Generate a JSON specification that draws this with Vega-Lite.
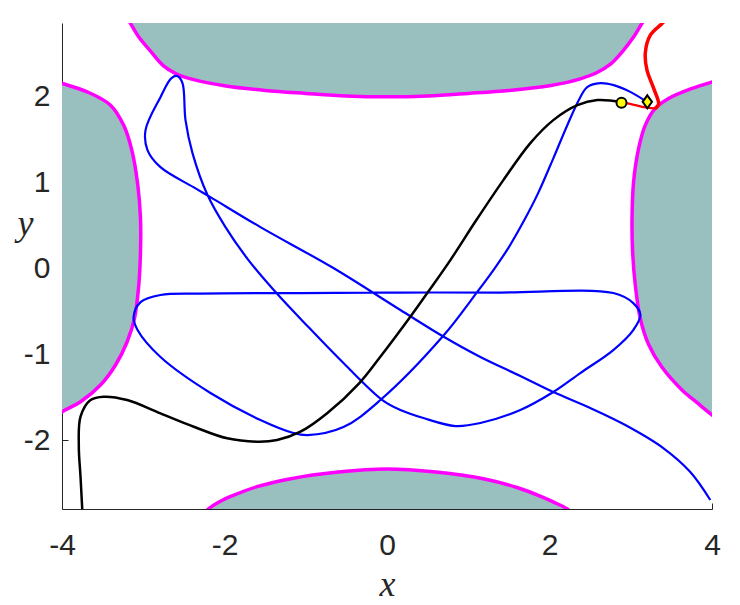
{
  "$schema": "https://vega.github.io/schema/vega-lite/v6.json",
  "width": 650,
  "height": 486,
  "autosize": {"type": "none"},
  "padding": {"left": 62, "top": 23, "right": 28, "bottom": 96},
  "background": "white",
  "config": {"view": {"stroke": null}},
  "datasets": {
    "regions": [
      {"s": "top", "i": 0, "x": -3.22, "y": 2.95},
      {"s": "top", "i": 1, "x": -3.16, "y": 2.86},
      {"s": "top", "i": 2, "x": -3.05, "y": 2.69},
      {"s": "top", "i": 3, "x": -2.9, "y": 2.52},
      {"s": "top", "i": 4, "x": -2.75, "y": 2.36},
      {"s": "top", "i": 5, "x": -2.6, "y": 2.27},
      {"s": "top", "i": 6, "x": -2.38, "y": 2.2},
      {"s": "top", "i": 7, "x": -2.0, "y": 2.13},
      {"s": "top", "i": 8, "x": -1.5, "y": 2.075},
      {"s": "top", "i": 9, "x": -1.0, "y": 2.04},
      {"s": "top", "i": 10, "x": -0.5, "y": 2.01},
      {"s": "top", "i": 11, "x": 0.0, "y": 2.0},
      {"s": "top", "i": 12, "x": 0.5, "y": 2.01},
      {"s": "top", "i": 13, "x": 1.0, "y": 2.04},
      {"s": "top", "i": 14, "x": 1.5, "y": 2.075},
      {"s": "top", "i": 15, "x": 2.0, "y": 2.13},
      {"s": "top", "i": 16, "x": 2.38, "y": 2.21},
      {"s": "top", "i": 17, "x": 2.58, "y": 2.28},
      {"s": "top", "i": 18, "x": 2.75, "y": 2.38},
      {"s": "top", "i": 19, "x": 2.9, "y": 2.53},
      {"s": "top", "i": 20, "x": 3.03, "y": 2.69},
      {"s": "top", "i": 21, "x": 3.14, "y": 2.86},
      {"s": "top", "i": 22, "x": 3.2, "y": 2.95},
      {"s": "bot", "i": 0, "x": -2.26, "y": -2.86},
      {"s": "bot", "i": 1, "x": -2.2, "y": -2.8},
      {"s": "bot", "i": 2, "x": -2.05, "y": -2.71},
      {"s": "bot", "i": 3, "x": -1.9, "y": -2.645},
      {"s": "bot", "i": 4, "x": -1.6, "y": -2.54},
      {"s": "bot", "i": 5, "x": -1.2, "y": -2.45},
      {"s": "bot", "i": 6, "x": -0.6, "y": -2.37},
      {"s": "bot", "i": 7, "x": 0.0, "y": -2.335},
      {"s": "bot", "i": 8, "x": 0.6, "y": -2.37},
      {"s": "bot", "i": 9, "x": 1.2, "y": -2.45},
      {"s": "bot", "i": 10, "x": 1.6, "y": -2.55},
      {"s": "bot", "i": 11, "x": 1.9, "y": -2.655},
      {"s": "bot", "i": 12, "x": 2.05, "y": -2.72},
      {"s": "bot", "i": 13, "x": 2.22, "y": -2.8},
      {"s": "bot", "i": 14, "x": 2.28, "y": -2.86},
      {"s": "left", "i": 0, "x": -4.1, "y": -1.74},
      {"s": "left", "i": 1, "x": -3.997, "y": -1.667},
      {"s": "left", "i": 2, "x": -3.772, "y": -1.551},
      {"s": "left", "i": 3, "x": -3.526, "y": -1.356},
      {"s": "left", "i": 4, "x": -3.341, "y": -1.123},
      {"s": "left", "i": 5, "x": -3.198, "y": -0.852},
      {"s": "left", "i": 6, "x": -3.108, "y": -0.58},
      {"s": "left", "i": 7, "x": -3.055, "y": -0.192},
      {"s": "left", "i": 8, "x": -3.034, "y": 0.196},
      {"s": "left", "i": 9, "x": -3.034, "y": 0.584},
      {"s": "left", "i": 10, "x": -3.067, "y": 0.972},
      {"s": "left", "i": 11, "x": -3.136, "y": 1.36},
      {"s": "left", "i": 12, "x": -3.239, "y": 1.665},
      {"s": "left", "i": 13, "x": -3.403, "y": 1.903},
      {"s": "left", "i": 14, "x": -3.69, "y": 2.058},
      {"s": "left", "i": 15, "x": -3.997, "y": 2.156},
      {"s": "left", "i": 16, "x": -4.1, "y": 2.185},
      {"s": "right", "i": 0, "x": 4.1, "y": -1.77},
      {"s": "right", "i": 1, "x": 4.007, "y": -1.71},
      {"s": "right", "i": 2, "x": 3.82, "y": -1.565},
      {"s": "right", "i": 3, "x": 3.631, "y": -1.414},
      {"s": "right", "i": 4, "x": 3.385, "y": -1.15},
      {"s": "right", "i": 5, "x": 3.22, "y": -0.885},
      {"s": "right", "i": 6, "x": 3.117, "y": -0.58},
      {"s": "right", "i": 7, "x": 3.056, "y": -0.192},
      {"s": "right", "i": 8, "x": 3.023, "y": 0.196},
      {"s": "right", "i": 9, "x": 3.016, "y": 0.584},
      {"s": "right", "i": 10, "x": 3.035, "y": 1.01},
      {"s": "right", "i": 11, "x": 3.097, "y": 1.399},
      {"s": "right", "i": 12, "x": 3.179, "y": 1.671},
      {"s": "right", "i": 13, "x": 3.302, "y": 1.865},
      {"s": "right", "i": 14, "x": 3.466, "y": 1.981},
      {"s": "right", "i": 15, "x": 3.754, "y": 2.098},
      {"s": "right", "i": 16, "x": 4.007, "y": 2.175},
      {"s": "right", "i": 17, "x": 4.1, "y": 2.2}
    ],
    "traj": [
      {"s": "blue", "i": 0, "x": 3.204, "y": 1.938},
      {"s": "blue", "i": 1, "x": 3.0, "y": 2.055},
      {"s": "blue", "i": 2, "x": 2.79, "y": 2.136},
      {"s": "blue", "i": 3, "x": 2.625, "y": 2.159},
      {"s": "blue", "i": 4, "x": 2.465, "y": 2.113},
      {"s": "blue", "i": 5, "x": 2.379, "y": 1.996},
      {"s": "blue", "i": 6, "x": 2.219, "y": 1.67},
      {"s": "blue", "i": 7, "x": 2.047, "y": 1.284},
      {"s": "blue", "i": 8, "x": 1.86, "y": 0.879},
      {"s": "blue", "i": 9, "x": 1.69, "y": 0.565},
      {"s": "blue", "i": 10, "x": 1.5, "y": 0.25},
      {"s": "blue", "i": 11, "x": 1.31, "y": -0.017},
      {"s": "blue", "i": 12, "x": 1.1, "y": -0.285},
      {"s": "blue", "i": 13, "x": 0.69, "y": -0.786},
      {"s": "blue", "i": 14, "x": -0.081, "y": -1.531},
      {"s": "blue", "i": 15, "x": -0.536, "y": -1.846},
      {"s": "blue", "i": 16, "x": -0.979, "y": -1.939},
      {"s": "blue", "i": 17, "x": -1.152, "y": -1.915},
      {"s": "blue", "i": 18, "x": -1.558, "y": -1.764},
      {"s": "blue", "i": 19, "x": -2.173, "y": -1.449},
      {"s": "blue", "i": 20, "x": -2.788, "y": -1.03},
      {"s": "blue", "i": 21, "x": -3.07, "y": -0.716},
      {"s": "blue", "i": 22, "x": -3.119, "y": -0.565},
      {"s": "blue", "i": 23, "x": -3.033, "y": -0.39},
      {"s": "blue", "i": 24, "x": -2.788, "y": -0.308},
      {"s": "blue", "i": 25, "x": -2.296, "y": -0.291},
      {"s": "blue", "i": 26, "x": -1.065, "y": -0.285},
      {"s": "blue", "i": 27, "x": 0.165, "y": -0.279},
      {"s": "blue", "i": 28, "x": 1.395, "y": -0.279},
      {"s": "blue", "i": 29, "x": 2.785, "y": -0.285},
      {"s": "blue", "i": 30, "x": 3.031, "y": -0.402},
      {"s": "blue", "i": 31, "x": 3.118, "y": -0.541},
      {"s": "blue", "i": 32, "x": 3.031, "y": -0.716},
      {"s": "blue", "i": 33, "x": 2.785, "y": -0.949},
      {"s": "blue", "i": 34, "x": 2.379, "y": -1.217},
      {"s": "blue", "i": 35, "x": 2.047, "y": -1.438},
      {"s": "blue", "i": 36, "x": 1.641, "y": -1.647},
      {"s": "blue", "i": 37, "x": 1.149, "y": -1.799},
      {"s": "blue", "i": 38, "x": 0.842, "y": -1.834},
      {"s": "blue", "i": 39, "x": 0.448, "y": -1.741},
      {"s": "blue", "i": 40, "x": 0.165, "y": -1.647},
      {"s": "blue", "i": 41, "x": -0.057, "y": -1.531},
      {"s": "blue", "i": 42, "x": -0.536, "y": -1.1},
      {"s": "blue", "i": 43, "x": -0.967, "y": -0.681},
      {"s": "blue", "i": 44, "x": -1.361, "y": -0.285},
      {"s": "blue", "i": 45, "x": -1.705, "y": 0.099},
      {"s": "blue", "i": 46, "x": -1.988, "y": 0.483},
      {"s": "blue", "i": 47, "x": -2.209, "y": 0.856},
      {"s": "blue", "i": 48, "x": -2.394, "y": 1.345},
      {"s": "blue", "i": 49, "x": -2.48, "y": 1.729},
      {"s": "blue", "i": 50, "x": -2.517, "y": 2.159},
      {"s": "blue", "i": 51, "x": -2.579, "y": 2.241},
      {"s": "blue", "i": 52, "x": -2.653, "y": 2.218},
      {"s": "blue", "i": 53, "x": -2.788, "y": 1.996},
      {"s": "blue", "i": 54, "x": -2.972, "y": 1.612},
      {"s": "blue", "i": 55, "x": -2.948, "y": 1.38},
      {"s": "blue", "i": 56, "x": -2.788, "y": 1.181},
      {"s": "blue", "i": 57, "x": -2.382, "y": 0.948},
      {"s": "blue", "i": 58, "x": -2.173, "y": 0.832},
      {"s": "blue", "i": 59, "x": -1.558, "y": 0.483},
      {"s": "blue", "i": 60, "x": -0.66, "y": 0.006},
      {"s": "blue", "i": 61, "x": 0.165, "y": -0.483},
      {"s": "blue", "i": 62, "x": 0.682, "y": -0.786},
      {"s": "blue", "i": 63, "x": 1.149, "y": -1.03},
      {"s": "blue", "i": 64, "x": 1.641, "y": -1.251},
      {"s": "blue", "i": 65, "x": 2.047, "y": -1.438},
      {"s": "blue", "i": 66, "x": 2.502, "y": -1.624},
      {"s": "blue", "i": 67, "x": 2.933, "y": -1.822},
      {"s": "blue", "i": 68, "x": 3.4, "y": -2.09},
      {"s": "blue", "i": 69, "x": 3.733, "y": -2.369},
      {"s": "blue", "i": 70, "x": 3.979, "y": -2.695},
      {"s": "black", "i": 0, "x": 2.896, "y": 1.938},
      {"s": "black", "i": 1, "x": 2.589, "y": 1.962},
      {"s": "black", "i": 2, "x": 2.343, "y": 1.903},
      {"s": "black", "i": 3, "x": 2.047, "y": 1.729},
      {"s": "black", "i": 4, "x": 1.764, "y": 1.461},
      {"s": "black", "i": 5, "x": 1.432, "y": 1.03},
      {"s": "black", "i": 6, "x": 1.1, "y": 0.565},
      {"s": "black", "i": 7, "x": 0.78, "y": 0.099},
      {"s": "black", "i": 8, "x": 0.522, "y": -0.25},
      {"s": "black", "i": 9, "x": 0.276, "y": -0.576},
      {"s": "black", "i": 10, "x": -0.094, "y": -1.042},
      {"s": "black", "i": 11, "x": -0.34, "y": -1.333},
      {"s": "black", "i": 12, "x": -0.733, "y": -1.682},
      {"s": "black", "i": 13, "x": -1.065, "y": -1.9},
      {"s": "black", "i": 14, "x": -1.352, "y": -1.997},
      {"s": "black", "i": 15, "x": -1.598, "y": -2.016},
      {"s": "black", "i": 16, "x": -1.967, "y": -1.977},
      {"s": "black", "i": 17, "x": -2.378, "y": -1.842},
      {"s": "black", "i": 18, "x": -2.788, "y": -1.686},
      {"s": "black", "i": 19, "x": -3.198, "y": -1.531},
      {"s": "black", "i": 20, "x": -3.485, "y": -1.492},
      {"s": "black", "i": 21, "x": -3.649, "y": -1.531},
      {"s": "black", "i": 22, "x": -3.772, "y": -1.725},
      {"s": "black", "i": 23, "x": -3.793, "y": -2.074},
      {"s": "black", "i": 24, "x": -3.772, "y": -2.424},
      {"s": "black", "i": 25, "x": -3.751, "y": -2.8},
      {"s": "black", "i": 26, "x": -3.745, "y": -2.9},
      {"s": "red1", "i": 0, "x": 2.896, "y": 1.938},
      {"s": "red1", "i": 1, "x": 3.056, "y": 1.903},
      {"s": "red1", "i": 2, "x": 3.204, "y": 1.874},
      {"s": "red1", "i": 3, "x": 3.31, "y": 1.866},
      {"s": "red2", "i": 0, "x": 3.3, "y": 1.862},
      {"s": "red2", "i": 1, "x": 3.343, "y": 1.915},
      {"s": "red2", "i": 2, "x": 3.281, "y": 2.101},
      {"s": "red2", "i": 3, "x": 3.2, "y": 2.311},
      {"s": "red2", "i": 4, "x": 3.179, "y": 2.509},
      {"s": "red2", "i": 5, "x": 3.241, "y": 2.718},
      {"s": "red2", "i": 6, "x": 3.385, "y": 2.854},
      {"s": "red2", "i": 7, "x": 3.462, "y": 2.928}
    ],
    "pts": [
      {"s": "circle", "x": 2.886, "y": 1.932},
      {"s": "diamond", "x": 3.204, "y": 1.942}
    ]
  },
  "encoding": {
    "x": {
      "field": "x",
      "type": "quantitative",
      "scale": {"domain": [-4, 4], "nice": false, "zero": false},
      "axis": {
        "values": [-4, -2, 0, 2, 4],
        "title": "x",
        "titleFont": "Liberation Serif",
        "titleFontStyle": "italic",
        "titleFontWeight": "normal",
        "titleFontSize": 36,
        "titleColor": "#262626",
        "titleY": 86,
        "titleBaseline": "alphabetic",
        "labelFont": "Liberation Sans",
        "labelFontSize": 30,
        "labelColor": "#262626",
        "labelPadding": 27,
        "labelFlush": false,
        "labelOverlap": false,
        "labelExpr": "replace(datum.label, '−', '-')",
        "tickSize": -6,
        "tickColor": "#262626",
        "domainColor": "#262626",
        "grid": false
      }
    },
    "y": {
      "field": "y",
      "type": "quantitative",
      "scale": {"domain": [-2.8, 2.86], "nice": false, "zero": false},
      "axis": {
        "values": [-2, -1, 0, 1, 2],
        "title": "y",
        "titleAngle": 0,
        "titleFont": "Liberation Serif",
        "titleFontStyle": "italic",
        "titleFontWeight": "normal",
        "titleFontSize": 36,
        "titleColor": "#262626",
        "titleX": -37,
        "titleY": 211,
        "titleAlign": "center",
        "titleBaseline": "alphabetic",
        "labelFont": "Liberation Sans",
        "labelFontSize": 30,
        "labelColor": "#262626",
        "labelPadding": 18,
        "labelFlush": false,
        "labelOverlap": false,
        "labelExpr": "replace(datum.label, '−', '-')",
        "tickSize": -6,
        "tickColor": "#262626",
        "domainColor": "#262626",
        "grid": false
      }
    }
  },
  "layer": [
    {
      "data": {"name": "regions"},
      "transform": [{"filter": "datum.s == 'top'"}],
      "mark": {"type": "area", "fill": "#9abfbf", "clip": true, "interpolate": "catmull-rom"},
      "encoding": {"y2": {"datum": 3.3}}
    },
    {
      "data": {"name": "regions"},
      "transform": [{"filter": "datum.s == 'bot'"}],
      "mark": {"type": "area", "fill": "#9abfbf", "clip": true, "interpolate": "catmull-rom"},
      "encoding": {"y2": {"datum": -3.3}}
    },
    {
      "data": {"name": "regions"},
      "transform": [{"filter": "datum.s == 'left'"}],
      "mark": {"type": "area", "orient": "horizontal", "fill": "#9abfbf", "clip": true, "interpolate": "catmull-rom"},
      "encoding": {"x2": {"datum": -4.5}}
    },
    {
      "data": {"name": "regions"},
      "transform": [{"filter": "datum.s == 'right'"}],
      "mark": {"type": "area", "orient": "horizontal", "fill": "#9abfbf", "clip": true, "interpolate": "catmull-rom"},
      "encoding": {"x2": {"datum": 4.5}}
    },
    {
      "data": {"name": "regions"},
      "mark": {"type": "line", "stroke": "#ff00ff", "strokeWidth": 3.5, "clip": true, "interpolate": "catmull-rom"},
      "encoding": {"detail": {"field": "s", "type": "nominal"}, "order": {"field": "i", "type": "quantitative"}}
    },
    {
      "data": {"name": "traj"},
      "transform": [{"filter": "datum.s == 'blue'"}],
      "mark": {"type": "line", "stroke": "#0000ff", "strokeWidth": 2.2, "clip": true, "interpolate": "catmull-rom"},
      "encoding": {"order": {"field": "i", "type": "quantitative"}}
    },
    {
      "data": {"name": "traj"},
      "transform": [{"filter": "datum.s == 'black'"}],
      "mark": {"type": "line", "stroke": "#000000", "strokeWidth": 2.5, "clip": true, "interpolate": "catmull-rom"},
      "encoding": {"order": {"field": "i", "type": "quantitative"}}
    },
    {
      "data": {"name": "traj"},
      "transform": [{"filter": "datum.s == 'red1'"}],
      "mark": {"type": "line", "stroke": "#ff0000", "strokeWidth": 2.2, "clip": true, "interpolate": "catmull-rom"},
      "encoding": {"order": {"field": "i", "type": "quantitative"}}
    },
    {
      "data": {"name": "traj"},
      "transform": [{"filter": "datum.s == 'red2'"}],
      "mark": {"type": "line", "stroke": "#ff0000", "strokeWidth": 3.5, "clip": true, "interpolate": "catmull-rom"},
      "encoding": {"order": {"field": "i", "type": "quantitative"}}
    },
    {
      "data": {"name": "pts"},
      "transform": [{"filter": "datum.s == 'circle'"}],
      "mark": {"type": "point", "shape": "circle", "filled": true, "fill": "#ffff00", "stroke": "#000000", "strokeWidth": 2, "size": 100, "opacity": 1}
    },
    {
      "data": {"name": "pts"},
      "transform": [{"filter": "datum.s == 'diamond'"}],
      "mark": {"type": "point", "shape": "M0,-1L0.72,0L0,1L-0.72,0Z", "filled": true, "fill": "#ffff00", "stroke": "#000000", "strokeWidth": 2, "size": 170, "opacity": 1}
    }
  ]
}
